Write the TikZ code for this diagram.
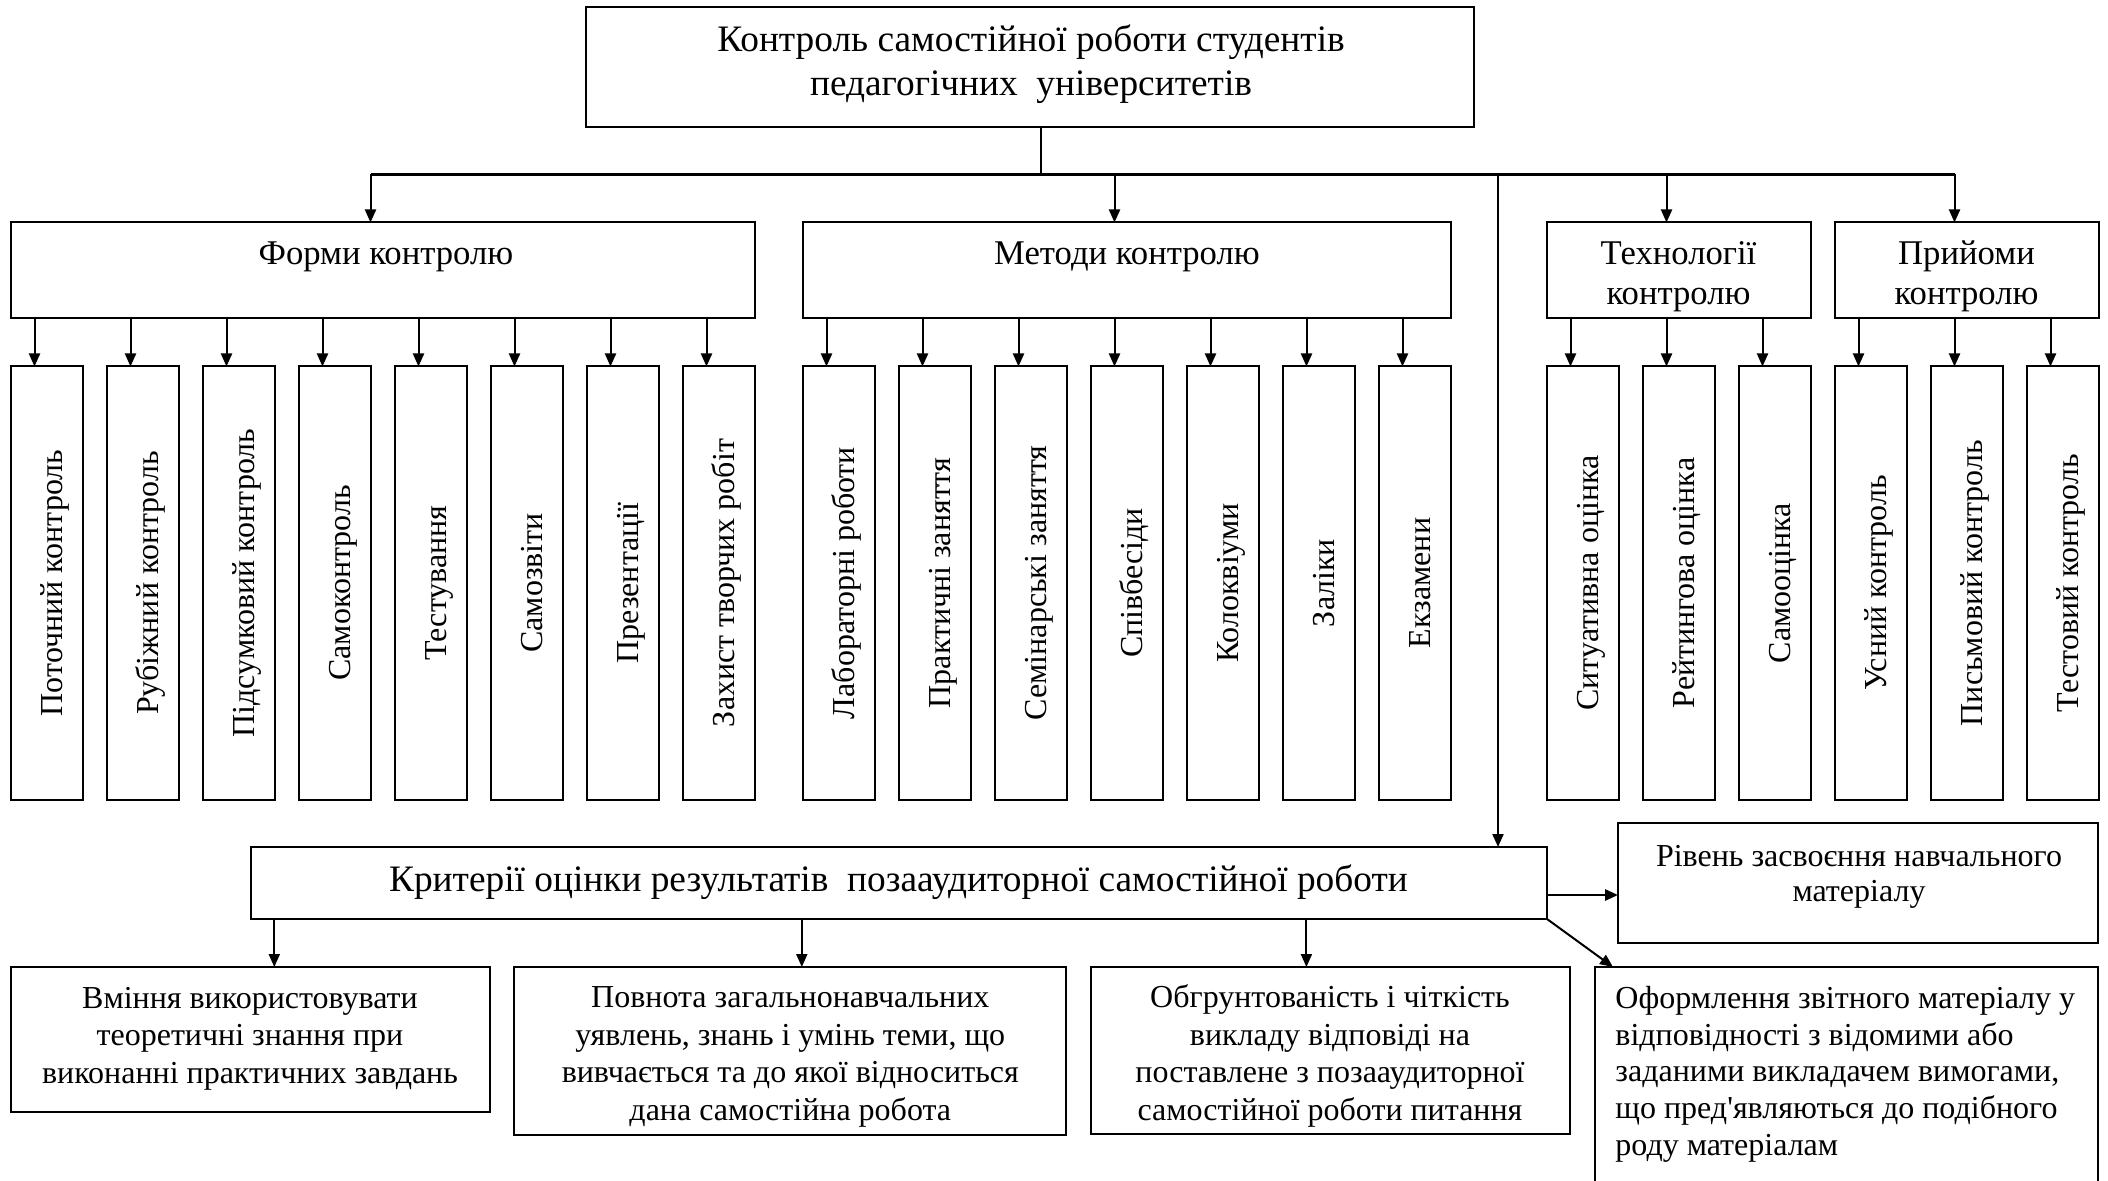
\documentclass[tikz,border=0pt]{standalone}
\usepackage{fontspec}
\setmainfont{Liberation Serif}
\newfontfamily\plainserif{Liberation Serif}[Ligatures=TeXOff]
\usetikzlibrary{arrows.meta,calc}
\newcommand\mybox[5]{\node[bx, anchor=north west, minimum width={(#4-#2)*0.5pt}, minimum height={(#5-#3)*0.5pt}] (#1) at (#2,#3) {};}
\begin{document}
\begin{tikzpicture}[x=0.5pt,y=-0.5pt,
  bx/.style={draw, line width=1pt, inner sep=0pt, outer sep=0pt, rectangle},
  arr/.style={line width=1pt, -{Triangle[length=6.5pt,width=5.5pt]}},
  ttl/.style={font=\fontsize{18.67}{22}\selectfont, align=center, anchor=base, inner sep=0pt},
  mid/.style={font=\fontsize{17.33}{20}\selectfont, align=center, anchor=base, inner sep=0pt},
  sm/.style={font=\fontsize{16}{18.7}\selectfont, align=center, anchor=base, inner sep=0pt},
  leaft/.style={font=\fontsize{16}{18}\selectfont, rotate=90, anchor=base, inner sep=0pt}]
\fill[white] (0,0) rectangle (2108,1181);
\useasboundingbox (0,0) rectangle (2108,1181);

% top (multi-line nodes: base = last line baseline)
\mybox{top}{586}{7}{1474}{127}
\node[ttl] (topt) at (1031,96) {Контроль самостійної роботи студентів\\педагогічних~ університетів};

% level 2
\mybox{forms}{10.5}{222.5}{754.5}{318.5}
\mybox{meth}{802.5}{222.5}{1450.5}{318.5}
\mybox{tech}{1546.5}{222.5}{1810.5}{318.5}
\mybox{prij}{1834.5}{222.5}{2098.5}{318.5}
\node[mid] (formst) at (386,265) {Форми контролю};
\node[mid] (metht) at (1127,265) {Методи контролю};
\node[mid] (techt) at (1678.5,305) {Технології\\контролю};
\node[mid] (prijt) at (1966.5,305) {Прийоми\\контролю};

% bus
\coordinate (stem) at (1041,174.5);
\coordinate (busL) at (370.5,174.5);
\coordinate (busM) at (1114.5,174.5);
\coordinate (busC) at (1498,174.5);
\coordinate (busT) at (1666.5,174.5);
\coordinate (busR) at (1954.5,174.5);
\draw[line width=0.8pt] (top.south -| stem) -- (stem);
\draw[line width=1.3pt] (busL) -- (busR);
\draw[arr] (busL) -- (busL |- forms.north);
\draw[arr] (busM) -- (busM |- meth.north);
\draw[arr] (busT) -- (busT |- tech.north);
\draw[arr] (busR) -- (busR |- prij.north);

% leaves: forms
\foreach \t [count=\k from 0] in {Поточний контроль,Рубіжний контроль,Підсумковий контроль,Самоконтроль,Тестування,Самозвіти,Презентації,Захист творчих робіт}{
  \pgfmathsetmacro\L{10.5+96*\k}
  \mybox{f\k}{\L}{366.5}{\L+72}{799.5}
  \node[leaft] (f\k t) at ($(f\k.center)+(16,0)$) {\t};
  \coordinate (fa\k) at ({\L+24},366.5);
  \draw[arr] (forms.south -| fa\k) -- (fa\k);
}
% leaves: methods
\foreach \t [count=\k from 0] in {Лабораторні роботи,Практичні заняття,Семінарські заняття,Співбесіди,Колоквіуми,Заліки,Екзамени}{
  \pgfmathsetmacro\L{802.5+96*\k}
  \mybox{m\k}{\L}{366.5}{\L+72}{799.5}
  \node[leaft] (m\k t) at ($(m\k.center)+(16,0)$) {\t};
  \coordinate (ma\k) at ({\L+24},366.5);
  \draw[arr] (meth.south -| ma\k) -- (ma\k);
}
% leaves: technologies
\foreach \t [count=\k from 0] in {Ситуативна оцінка,Рейтингова оцінка,Самооцінка}{
  \pgfmathsetmacro\L{1546.5+96*\k}
  \mybox{t\k}{\L}{366.5}{\L+72}{799.5}
  \node[leaft] (t\k t) at ($(t\k.center)+(16,0)$) {\t};
  \coordinate (ta\k) at ({\L+24},366.5);
  \draw[arr] (tech.south -| ta\k) -- (ta\k);
}
% leaves: techniques
\foreach \t [count=\k from 0] in {Усний контроль,Письмовий контроль,Тестовий контроль}{
  \pgfmathsetmacro\L{1834.5+96*\k}
  \mybox{p\k}{\L}{366.5}{\L+72}{799.5}
  \node[leaft] (p\k t) at ($(p\k.center)+(16,0)$) {\t};
  \coordinate (pa\k) at ({\L+24},366.5);
  \draw[arr] (prij.south -| pa\k) -- (pa\k);
}

% criteria
\mybox{crit}{250.5}{847}{1547}{919}
\node[ttl] (critt) at (898.5,891.7) {Критерії оцінки результатів~ позааудиторної самостійної роботи};
\draw[arr] (busC) -- (busC |- crit.north);

\mybox{riv}{1618}{823}{2098}{943}
\node[sm,font=\fontsize{16}{17.5}\selectfont] (rivt) at (1859,901.7) {Рівень засвоєння навчального\\матеріалу};

\mybox{bA}{10.5}{967}{489.7}{1112}
\mybox{bB}{514.2}{967}{1066.3}{1135}
\mybox{bC}{1090.5}{967}{1569.6}{1134}
\mybox{bD}{1595}{967}{2098}{1186}
\node[sm] (bAt) at (250,1083) {Вміння використовувати\\теоретичні знання при\\виконанні практичних завдань};
\node[sm] (bBt) at (790.3,1120) {Повнота загальнонавчальних\\уявлень, знань і умінь теми, що\\вивчається та до якої відноситься\\дана самостійна робота};
\node[sm] (bCt) at (1330,1120) {Обгрунтованість і чіткість\\викладу відповіді на\\поставлене з позааудиторної\\самостійної роботи питання};
\node[sm,align=left,anchor=base west,font=\plainserif\fontsize{16}{18.3}\selectfont] (bDt) at (1615,1155) {Оформлення звітного матеріалу у\\відповідності з відомими або\\заданими викладачем вимогами,\\що пред'являються до подібного\\роду матеріалам};

\coordinate (aA) at (274.3,967);
\coordinate (aB) at (801.8,967);
\coordinate (aC) at (1306.4,967);
\coordinate (aR) at (1618,895);
\coordinate (aD) at (1613,967);
\draw[arr] (crit.south -| aA) -- (aA);
\draw[arr] (crit.south -| aB) -- (aB);
\draw[arr] (crit.south -| aC) -- (aC);
\draw[arr,line width=1.4pt] (crit.east |- aR) -- (aR);
\draw[arr] (crit.south east) -- (aD);
\end{tikzpicture}
\end{document}
